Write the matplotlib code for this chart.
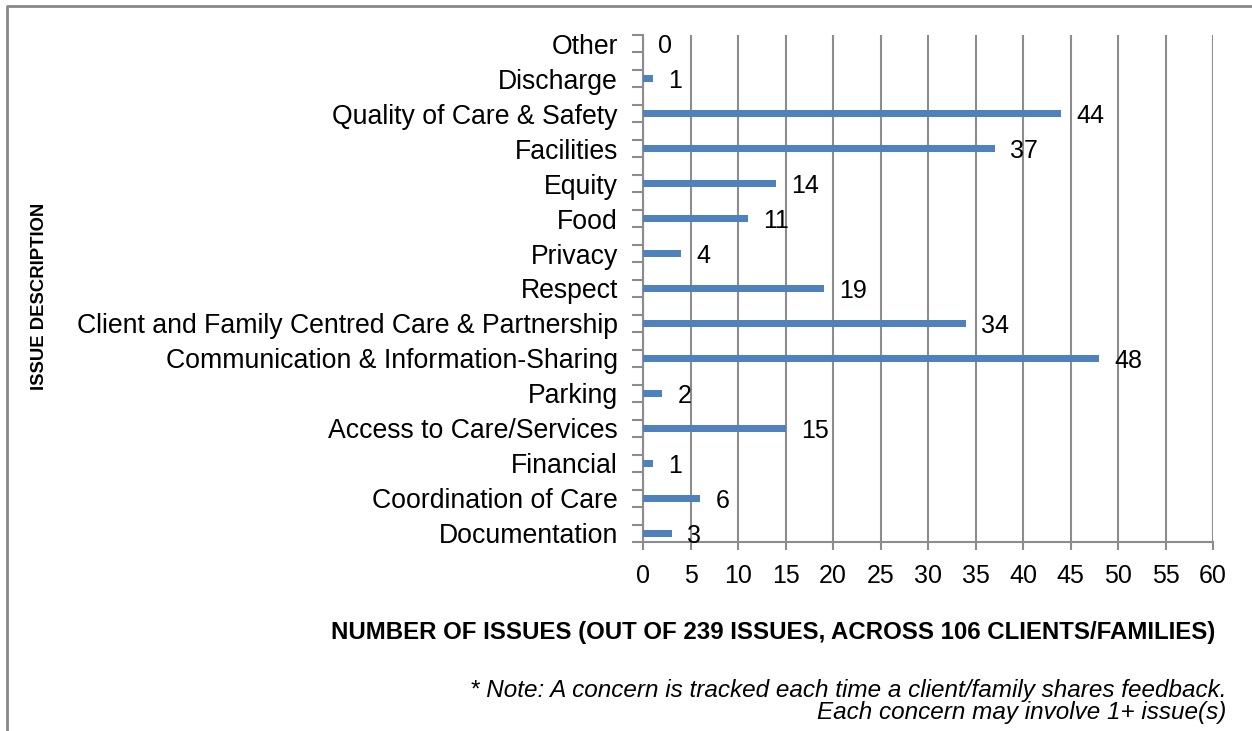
import matplotlib
matplotlib.use("Agg")
import matplotlib.pyplot as plt
from matplotlib.lines import Line2D
import numpy as np

plt.rcParams['font.family'] = ['Liberation Sans', 'DejaVu Sans']

categories = ["Documentation", "Coordination of Care", "Financial", "Access to Care/Services",
              "Parking", "Communication & Information-Sharing",
              "Client and Family Centred Care & Partnership", "Respect", "Privacy", "Food",
              "Equity", "Facilities", "Quality of Care & Safety", "Discharge", "Other"]
values = [3, 6, 1, 15, 2, 48, 34, 19, 4, 11, 14, 37, 44, 1, 0]
xticks = list(range(0, 61, 5))

BLUE = "#4F81BD"
GRID = "#8C8C8C"

fig = plt.figure(figsize=(12.52, 7.31), dpi=100)
ax = fig.add_axes([643/1252, 1-542/731, (1213-643)/1252, (542-35)/731])

y = np.arange(len(categories))
ax.barh(y, values, height=0.19, color=BLUE, zorder=3)
ax.set_xlim(0, 60)
ax.set_ylim(-0.25, len(categories) - 0.75)
ax.set_xticks(xticks)
ax.set_xticklabels([str(t) for t in xticks], fontsize=18)
ax.set_yticks(y)
ax.set_yticklabels(categories, fontsize=19.2, va='center_baseline')
ax.set_yticks(np.arange(-0.25, len(categories) - 0.5, 0.5), minor=True)
ax.tick_params(axis='y', which='major', length=0, pad=18)
ax.tick_params(axis='y', which='minor', length=8, width=1.5, color=GRID, direction='out')
ax.tick_params(axis='x', length=6, width=1.5, color=GRID, direction='out', pad=10)
ax.grid(axis='x', color=GRID, linewidth=1.5, zorder=0)
for s in ['top', 'right']:
    ax.spines[s].set_visible(False)
for s in ['left', 'bottom']:
    ax.spines[s].set_color(GRID)
    ax.spines[s].set_linewidth(1.5)

for yi, v in zip(y, values):
    ax.annotate(str(v), (v, yi), xytext=(11, 0), textcoords='offset points',
                va='center_baseline', ha='left', fontsize=18)

fig.text(39.5/1252, 1-296/731, "ISSUE DESCRIPTION", rotation=90, ha='center', va='center',
         fontsize=13.3, fontweight='bold')
fig.text(1215/1252, 1-633/731, "NUMBER OF ISSUES (OUT OF 239 ISSUES, ACROSS 106 CLIENTS/FAMILIES)",
         ha='right', va='center', fontsize=17.3, fontweight='bold')
fig.text(1226/1252, 1-690/731, "* Note: A concern is tracked each time a client/family shares feedback.",
         ha='right', va='center', fontsize=17.5, style='italic')
fig.text(1226/1252, 1-713/731, "Each concern may involve 1+ issue(s)",
         ha='right', va='center', fontsize=17.5, style='italic')

# outer chart border (left and top visible)
fig.add_artist(Line2D([7/1252, 7/1252, 1.0], [0.0, 1-6/731, 1-6/731],
                      transform=fig.transFigure, color="#888888", linewidth=2))

fig.savefig("out.png", dpi=100)
